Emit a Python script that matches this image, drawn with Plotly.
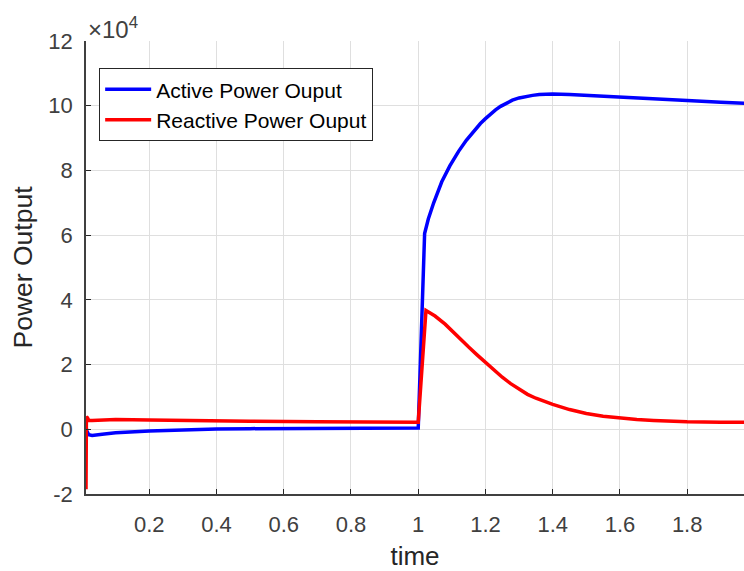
import plotly.graph_objects as go

# Simulation samples: time [s] and power output [W]
t_active = [0.0118, 0.014, 0.02, 0.03, 0.06, 0.1, 0.2, 0.3, 0.4, 0.5, 0.7, 1.0,
            1.019, 1.03, 1.046, 1.07, 1.094, 1.12, 1.143, 1.17, 1.185, 1.2, 1.215, 1.23,
            1.245, 1.263, 1.28, 1.3, 1.322, 1.34, 1.36, 1.38, 1.4, 1.45, 1.52, 1.6,
            1.7, 1.8, 1.9, 2.0]
p_active = [1000, -500, -1700, -1900, -1500, -1100, -500, -100, 100, 200, 300, 400,
            60500, 65000, 70000, 76500, 81400, 85900, 89300, 92800, 94500, 96000, 97400, 98700,
            99800, 100900, 101700, 102400, 102900, 103200, 103450, 103600, 103650, 103500, 103100, 102500,
            102000, 101600, 101100, 100600]

t_reactive = [0.0118, 0.013, 0.016, 0.02, 0.03, 0.1, 0.2, 0.3, 0.5, 0.7, 1.0,
              1.023, 1.05, 1.08, 1.104, 1.13, 1.15, 1.175, 1.2, 1.225, 1.25, 1.275,
              1.302, 1.325, 1.35, 1.375, 1.4, 1.45, 1.5, 1.55, 1.6, 1.65, 1.7, 1.8, 1.9, 2.0]
p_reactive = [-18500, 3800, 3600, 2800, 2700, 3000, 2900, 2700, 2500, 2300, 2200,
              36700, 35000, 32500, 30000, 27300, 25400, 23000, 20600, 18300, 16100, 14100,
              12200, 10800, 9600, 8600, 7700, 6100, 4900, 4000, 3400, 3000, 2700, 2300, 2200, 2200]

y_ticks = [-20000, 0, 20000, 40000, 60000, 80000, 100000, 120000]
y_tick_text = ["-2", "0", "2", "4", "6", "8", "10", "12"]
x_ticks = [0.2, 0.4, 0.6, 0.8, 1.0, 1.2, 1.4, 1.6, 1.8]
x_tick_text = ["0.2", "0.4", "0.6", "0.8", "1", "1.2", "1.4", "1.6", "1.8"]

FONT = "Liberation Sans, Arial, Helvetica, sans-serif"
TXT = "#262626"
GRID = "#dfdfdf"

fig = go.Figure()
fig.add_trace(go.Scatter(x=t_active, y=p_active, mode="lines",
                         name="Active Power Ouput",
                         line=dict(color="#0000ff", width=3.5)))
fig.add_trace(go.Scatter(x=t_reactive, y=p_reactive, mode="lines",
                         name="Reactive Power Ouput",
                         line=dict(color="#ff0000", width=3.5)))

fig.update_layout(
    width=744, height=571,
    margin=dict(l=86, r=0, t=41, b=77),
    paper_bgcolor="white", plot_bgcolor="white",
    font=dict(family=FONT, color=TXT),
    showlegend=True,
    legend=dict(
        x=0.02, y=0.94, xanchor="left", yanchor="top",
        bgcolor="white", bordercolor=TXT, borderwidth=1,
        font=dict(size=21, color="#000000"),
        itemwidth=46, tracegroupgap=0,
    ),
    xaxis=dict(
        range=[0.0118, 1.969],
        tickvals=x_ticks, ticktext=x_tick_text,
        ticks="inside", ticklen=5, tickcolor=TXT, tickwidth=1,
        tickfont=dict(size=22, color="#404040"),
        ticklabelstandoff=10,
        showgrid=True, gridcolor=GRID, gridwidth=1,
        showline=True, linecolor="#404040", linewidth=1.5,
        zeroline=False,
        title=dict(text="time", font=dict(size=26, color=TXT), standoff=11),
    ),
    yaxis=dict(
        range=[-20000, 120000],
        tickvals=y_ticks, ticktext=y_tick_text,
        ticks="inside", ticklen=5, tickcolor=TXT, tickwidth=1,
        tickfont=dict(size=22, color="#404040"),
        ticklabelstandoff=7,
        showgrid=True, gridcolor=GRID, gridwidth=1,
        showline=True, linecolor="#404040", linewidth=1.5,
        zeroline=False,
        title=dict(text="Power Output", font=dict(size=26.5, color=TXT), standoff=8),
    ),
)

# axis exponent label
fig.add_annotation(
    text="×10<sup>4</sup>", xref="paper", yref="paper",
    x=0, y=1, xanchor="left", yanchor="bottom", showarrow=False,
    font=dict(size=24, color="#404040"), yshift=-4,
)

fig.write_html("out.html")
